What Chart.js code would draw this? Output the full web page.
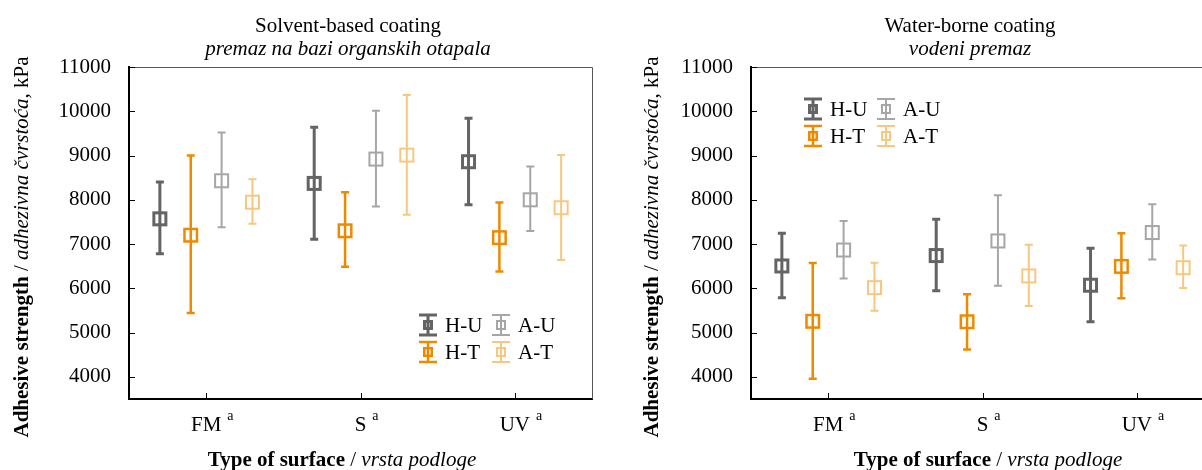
<!DOCTYPE html>
<html>
<head>
<meta charset="utf-8">
<script src="https://cdn.jsdelivr.net/npm/chart.js@4.4.1/dist/chart.umd.min.js"></script>
<style>
  html, body { margin: 0; padding: 0; background: #fff; overflow: hidden; }
  .panel { position: absolute; top: 0; width: 600px; height: 470px; }
  #p1 { left: 0; }
  #p2 { left: 622px; }
</style>
</head>
<body>
<div class="panel" id="p1"><canvas id="c1"></canvas></div>
<div class="panel" id="p2"><canvas id="c2"></canvas></div>
<script>
// categories and series
var surfaces = ['FM', 'S', 'UV'];
var surfaceNote = 'a';
var seriesNames = ['H-U', 'H-T', 'A-U', 'A-T'];
var yTickValues = [4000, 5000, 6000, 7000, 8000, 9000, 10000, 11000];

// Solvent-based coating, kPa (mean, lower and upper whisker)
var solventHU = [7570, 8370, 8860];
var solventHULow = [6780, 7110, 7890];
var solventHUHigh = [8400, 9640, 9840];
var solventHT = [7200, 7300, 7145];
var solventHTLow = [5440, 6490, 6380];
var solventHTHigh = [9000, 8170, 7940];
var solventAU = [8430, 8920, 8000];
var solventAULow = [7380, 7850, 7295];
var solventAUHigh = [9520, 10010, 8750];
var solventAT = [7945, 9010, 7820];
var solventATLow = [7460, 7665, 6640];
var solventATHigh = [8465, 10370, 9010];

// Water-borne coating, kPa
var waterHU = [6505, 6740, 6070];
var waterHULow = [5790, 5945, 5245];
var waterHUHigh = [7245, 7560, 6905];
var waterHT = [5255, 5245, 6495];
var waterHTLow = [3960, 4620, 5775];
var waterHTHigh = [6570, 5865, 7245];
var waterAU = [6865, 7070, 7260];
var waterAULow = [6220, 6060, 6650];
var waterAUHigh = [7520, 8100, 7900];
var waterAT = [6015, 6280, 6465];
var waterATLow = [5495, 5600, 6005];
var waterATHigh = [6580, 6985, 6970];

var SERIF = '"Liberation Serif", "Times New Roman", serif';
var seriesColors = ['#646464', '#EE8A00', '#A6A6A6', '#F8C77F'];
var seriesLine = [3, 2.5, 2, 2];

function makeDatasets(means, lows, highs) {
  return seriesNames.map(function (name, k) {
    return {
      label: name,
      data: surfaces.map(function (s, i) { return [lows[k][i], highs[k][i]]; }),
      means: means[k],
      backgroundColor: seriesColors[k],
      borderWidth: 0,
      maxBarThickness: seriesLine[k]
    };
  });
}

function drawRuns(ctx, runs, x, y) {
  var total = 0;
  runs.forEach(function (r) { ctx.font = r.font; total += ctx.measureText(r.text).width; });
  var cx = x - total / 2;
  ctx.textAlign = 'left';
  runs.forEach(function (r) {
    ctx.font = r.font;
    ctx.fillText(r.text, cx, y);
    cx += ctx.measureText(r.text).width;
  });
}

function drawSymbol(ctx, k, x, y, half, capW, box) {
  ctx.strokeStyle = seriesColors[k];
  ctx.lineWidth = seriesLine[k];
  ctx.beginPath();
  ctx.moveTo(x, y - half); ctx.lineTo(x, y + half);
  ctx.moveTo(x - capW / 2, y - half); ctx.lineTo(x + capW / 2, y - half);
  ctx.moveTo(x - capW / 2, y + half); ctx.lineTo(x + capW / 2, y + half);
  ctx.stroke();
  var s = box - seriesLine[k];
  ctx.strokeRect(x - s / 2, y - s / 2, s, s);
}

var errorBarPlugin = {
  id: 'errorBars',
  afterDatasetsDraw: function (chart) {
    var ctx = chart.ctx, ys = chart.scales.y;
    ctx.save();
    chart.data.datasets.forEach(function (ds, k) {
      var meta = chart.getDatasetMeta(k);
      meta.data.forEach(function (bar, i) {
        var x = bar.x;
        ctx.strokeStyle = seriesColors[k];
        ctx.lineWidth = seriesLine[k];
        ctx.beginPath();
        ctx.moveTo(x - 4, bar.y); ctx.lineTo(x + 4, bar.y);
        ctx.moveTo(x - 4, bar.base); ctx.lineTo(x + 4, bar.base);
        ctx.stroke();
        var my = ys.getPixelForValue(ds.means[i]);
        var s = 15 - seriesLine[k];
        ctx.strokeRect(x - s / 2, my - s / 2, s, s);
      });
    });
    ctx.restore();
  }
};

var framePlugin = {
  id: 'frame',
  afterDraw: function (chart, args, opts) {
    var ctx = chart.ctx, a = chart.chartArea;
    var xs = chart.scales.x, ys = chart.scales.y;
    ctx.save();
    // top and right frame
    ctx.strokeStyle = '#555';
    ctx.lineWidth = 1;
    ctx.beginPath();
    ctx.moveTo(a.left, a.top + 0.5); ctx.lineTo(a.right + 0.5, a.top + 0.5);
    ctx.lineTo(a.right + 0.5, a.bottom);
    ctx.stroke();
    // inner tick marks
    ctx.strokeStyle = '#000';
    ctx.beginPath();
    yTickValues.forEach(function (v) {
      var py = Math.round(ys.getPixelForValue(v)) + 0.5;
      ctx.moveTo(a.left, py); ctx.lineTo(a.left + 6, py);
    });
    surfaces.forEach(function (s, i) {
      var px = Math.round(xs.getPixelForValue(i)) + 0.5;
      ctx.moveTo(px, a.bottom); ctx.lineTo(px, a.bottom - 6);
    });
    ctx.stroke();

    ctx.fillStyle = '#000';
    ctx.textBaseline = 'alphabetic';
    // superscript notes on categories
    surfaces.forEach(function (s, i) {
      ctx.font = '21px ' + SERIF;
      var w = ctx.measureText(s).width;
      var px = xs.getPixelForValue(i) + w / 2 + 6;
      ctx.font = '14px ' + SERIF;
      ctx.textAlign = 'left';
      ctx.fillText(surfaceNote, px, 420);
    });
    // chart title, two lines
    ctx.font = '21px ' + SERIF;
    ctx.textAlign = 'center';
    ctx.fillText(opts.title[0], opts.titleX, 32);
    ctx.font = 'italic 21px ' + SERIF;
    ctx.fillText(opts.title[1], opts.titleX, 55);
    // x axis title
    drawRuns(ctx, [
      { text: 'Type of surface', font: 'bold 21px ' + SERIF },
      { text: ' / ', font: '21px ' + SERIF },
      { text: 'vrsta podloge', font: 'italic 21px ' + SERIF }
    ], opts.xTitleX, 466);
    // y axis title
    ctx.translate(opts.yTitleX, 247);
    ctx.rotate(-Math.PI / 2);
    drawRuns(ctx, [
      { text: 'Adhesive strength', font: 'bold 21px ' + SERIF },
      { text: ' / ', font: '21px ' + SERIF },
      { text: 'adhezivna čvrstoća', font: 'italic 21px ' + SERIF },
      { text: ', kPa', font: '21px ' + SERIF }
    ], 0, 0);
    ctx.setTransform(1, 0, 0, 1, 0, 0);
    // legend, two columns
    var order = [[0, 2], [1, 3]];
    ctx.font = '21px ' + SERIF;
    ctx.textBaseline = 'middle';
    ctx.textAlign = 'left';
    order.forEach(function (row, r) {
      row.forEach(function (k, c) {
        var sx = a.left + opts.legendX + c * 73;
        var sy = opts.legendY + r * 27;
        drawSymbol(ctx, k, sx, sy, 10, 18, 10);
        ctx.fillStyle = '#000';
        ctx.fillText(seriesNames[k], sx + 17, sy + 1);
      });
    });
    ctx.restore();
  }
};

function makeChart(id, datasets, frameOpts) {
  return new Chart(document.getElementById(id), {
    type: 'bar',
    data: { labels: surfaces, datasets: datasets },
    options: {
      animation: false,
      responsive: true,
      maintainAspectRatio: false,
      layout: { padding: { top: 67, right: 8, bottom: 0, left: 0 } },
      plugins: {
        legend: { display: false },
        tooltip: { enabled: false },
        title: { display: false },
        frame: frameOpts
      },
      scales: {
        x: {
          grid: { display: false, drawTicks: false },
          border: { display: true, color: '#000', width: 2 },
          ticks: { color: '#000', padding: 14, font: { family: SERIF, size: 21 } },
          afterFit: function (s) { s.height = 71; }
        },
        y: {
          min: 3500,
          max: 11000,
          grid: { display: false, drawTicks: false },
          border: { display: true, color: '#000', width: 2 },
          ticks: {
            padding: 18,
            color: '#000',
            font: { family: SERIF, size: 21 },
            callback: function (v) { return String(v); }
          },
          afterBuildTicks: function (s) {
            s.ticks = yTickValues.map(function (v) { return { value: v }; });
          },
          afterFit: function (s) { s.width = 129; }
        }
      }
    },
    plugins: [errorBarPlugin, framePlugin]
  });
}

makeChart('c1',
  makeDatasets(
    [solventHU, solventHT, solventAU, solventAT],
    [solventHULow, solventHTLow, solventAULow, solventATLow],
    [solventHUHigh, solventHTHigh, solventAUHigh, solventATHigh]
  ),
  { title: ['Solvent-based coating', 'premaz na bazi organskih otapala'],
    titleX: 348, xTitleX: 342, yTitleX: 28, legendX: 299, legendY: 325 });

makeChart('c2',
  makeDatasets(
    [waterHU, waterHT, waterAU, waterAT],
    [waterHULow, waterHTLow, waterAULow, waterATLow],
    [waterHUHigh, waterHTHigh, waterAUHigh, waterATHigh]
  ),
  { title: ['Water-borne coating', 'vodeni premaz'],
    titleX: 348, xTitleX: 366, yTitleX: 36, legendX: 62, legendY: 109 });
</script>
</body>
</html>
